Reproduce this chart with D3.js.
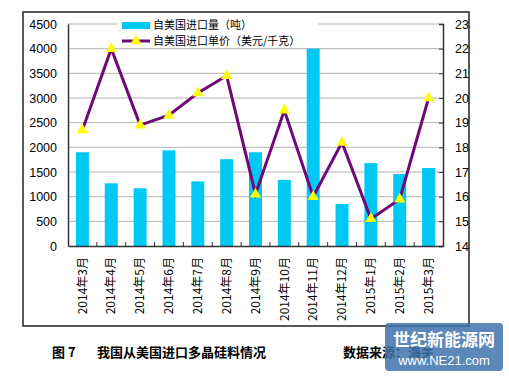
<!DOCTYPE html>
<html>
<head>
<meta charset="utf-8">
<script src="https://cdn.jsdelivr.net/npm/d3@7"></script>
<style>
  body { margin: 0; background: #fff; }
  svg { display: block; }
</style>
</head>
<body>
<div id="chart"></div>
<script>
// Data
const months = ["2014年3月", "2014年4月", "2014年5月", "2014年6月", "2014年7月", "2014年8月",
  "2014年9月", "2014年10月", "2014年11月", "2014年12月", "2015年1月", "2015年2月", "2015年3月"];
const volume = [1900, 1270, 1170, 1940, 1310, 1760, 1900, 1340, 4000, 850, 1680, 1460, 1580];
const price = [18.7, 22.0, 18.9, 19.3, 20.2, 20.9, 16.1, 19.5, 16.0, 18.2, 15.1, 15.9, 20.0];
const leftTicks = [0, 500, 1000, 1500, 2000, 2500, 3000, 3500, 4000, 4500];
const rightTicks = [14, 15, 16, 17, 18, 19, 20, 21, 22, 23];

const W = 509, H = 377;
const plot = { left: 68, right: 443, top: 24, bottom: 246 };
const font = '"Liberation Sans", Arial, "Noto Sans CJK SC", sans-serif';
const cjk = '"Noto Sans CJK SC", "Liberation Sans", sans-serif';

const svg = d3.select("#chart").append("svg")
  .attr("width", W).attr("height", H);

// outer frame
svg.append("rect")
  .attr("x", 23).attr("y", 12).attr("width", 446).attr("height", 314)
  .attr("fill", "#fff").attr("stroke", "#222").attr("stroke-width", 1.5);

const x = d3.scaleBand().domain(months)
  .range([plot.left, plot.right]).paddingInner(0.55).paddingOuter(0.275);
const yL = d3.scaleLinear().domain([0, 4500]).range([plot.bottom, plot.top]);
const yR = d3.scaleLinear().domain([14, 23]).range([plot.bottom, plot.top]);

// gridlines
svg.append("g").selectAll("line")
  .data(leftTicks.filter(d => d > 0))
  .join("line")
  .attr("x1", plot.left).attr("x2", plot.right)
  .attr("y1", d => yL(d)).attr("y2", d => yL(d))
  .attr("stroke", "#b3b3b3").attr("stroke-width", 1);

// bars
svg.append("g").selectAll("rect")
  .data(volume)
  .join("rect")
  .attr("x", (d, i) => x(months[i]))
  .attr("y", d => yL(d))
  .attr("width", x.bandwidth())
  .attr("height", d => yL(0) - yL(d))
  .attr("fill", "#00c8f5");

// left axis
const leftAxis = svg.append("g")
  .attr("transform", `translate(${plot.left},0)`)
  .call(d3.axisLeft(yL).tickValues(leftTicks).tickFormat(d3.format("d")).tickSize(0).tickPadding(11));
leftAxis.select(".domain").attr("stroke", "#333").attr("stroke-width", 1.5);
leftAxis.selectAll("text").style("font-family", font).style("font-size", "12.5px").attr("fill", "#000");

// right axis
const rightAxis = svg.append("g")
  .attr("transform", `translate(${plot.right},0)`)
  .call(d3.axisRight(yR).tickValues(rightTicks).tickFormat(d3.format("d")).tickSize(-4).tickPadding(12));
rightAxis.select(".domain").attr("stroke", "#333").attr("stroke-width", 1.5);
rightAxis.selectAll(".tick line").attr("stroke", "#333");
rightAxis.selectAll("text").style("font-family", font).style("font-size", "12.5px").attr("fill", "#000");

// bottom axis
const bottomAxis = svg.append("g")
  .attr("transform", `translate(0,${plot.bottom})`)
  .call(d3.axisBottom(x).tickSize(0).tickPadding(0));
bottomAxis.select(".domain").attr("stroke", "#333").attr("stroke-width", 1.5);
bottomAxis.selectAll("text")
  .attr("transform", "rotate(-90)")
  .attr("x", -11).attr("y", 0).attr("dy", "0.35em")
  .attr("text-anchor", "end")
  .style("font-family", cjk).style("font-size", "12px").attr("fill", "#000");

// tick marks between categories (pointing up)
const step = x.step();
svg.append("g").selectAll("line")
  .data(d3.range(1, months.length))
  .join("line")
  .attr("x1", d => x(months[d]) - (step - x.bandwidth()) / 2)
  .attr("x2", d => x(months[d]) - (step - x.bandwidth()) / 2)
  .attr("y1", plot.bottom).attr("y2", plot.bottom - 4)
  .attr("stroke", "#333");

// price line
const cx = i => x(months[i]) + x.bandwidth() / 2;
const line = d3.line().x((d, i) => cx(i)).y(d => yR(d));
svg.append("path")
  .datum(price)
  .attr("d", line)
  .attr("fill", "none")
  .attr("stroke", "#6e0a78")
  .attr("stroke-width", 3)
  .attr("stroke-linejoin", "miter");

const tri = d3.symbol().type(d3.symbolTriangle).size(55);
svg.append("g").selectAll("path")
  .data(price)
  .join("path")
  .attr("d", tri)
  .attr("transform", (d, i) => `translate(${cx(i)},${yR(d)})`)
  .attr("fill", "#ffff00");

// legend
const lg = svg.append("g");
lg.append("rect").attr("x", 117).attr("y", 17).attr("width", 200).attr("height", 30).attr("fill", "#fff");
lg.append("rect").attr("x", 122).attr("y", 22).attr("width", 28).attr("height", 7).attr("fill", "#00c8f5");
lg.append("line").attr("x1", 122).attr("x2", 150).attr("y1", 41).attr("y2", 41)
  .attr("stroke", "#6e0a78").attr("stroke-width", 3);
lg.append("path").attr("d", tri).attr("transform", "translate(136,41)").attr("fill", "#ffff00");
lg.append("text").attr("x", 153).attr("y", 25).attr("dy", "0.35em")
  .style("font-family", cjk).style("font-size", "11px").text("自美国进口量（吨）");
lg.append("text").attr("x", 153).attr("y", 41).attr("dy", "0.35em")
  .style("font-family", cjk).style("font-size", "11px").text("自美国进口单价（美元/千克）");

// caption
svg.append("text").attr("x", 52).attr("y", 352).attr("dy", "0.35em")
  .style("font-family", cjk).style("font-size", "13px").style("font-weight", "bold")
  .text("图 7");
svg.append("text").attr("x", 97).attr("y", 352).attr("dy", "0.35em")
  .style("font-family", cjk).style("font-size", "13px").style("font-weight", "bold")
  .text("我国从美国进口多晶硅料情况");
svg.append("text").attr("x", 343).attr("y", 352).attr("dy", "0.35em")
  .style("font-family", cjk).style("font-size", "13px").style("font-weight", "bold")
  .text("数据来源：海关");

// watermark
const wm = svg.append("g");
wm.append("rect").attr("x", 385).attr("y", 323).attr("width", 118).attr("height", 48).attr("rx", 4)
  .attr("fill", "#3f72ad").attr("opacity", 0.85);
wm.append("text").attr("x", 444).attr("y", 340).attr("dy", "0.35em").attr("text-anchor", "middle")
  .style("font-family", cjk).style("font-size", "17px").style("font-weight", "bold").attr("fill", "#fff")
  .text("世纪新能源网");
wm.append("text").attr("x", 444).attr("y", 360).attr("dy", "0.35em").attr("text-anchor", "middle")
  .style("font-family", font).style("font-size", "13px").attr("fill", "#fff")
  .text("www.NE21.com");
</script>
</body>
</html>
